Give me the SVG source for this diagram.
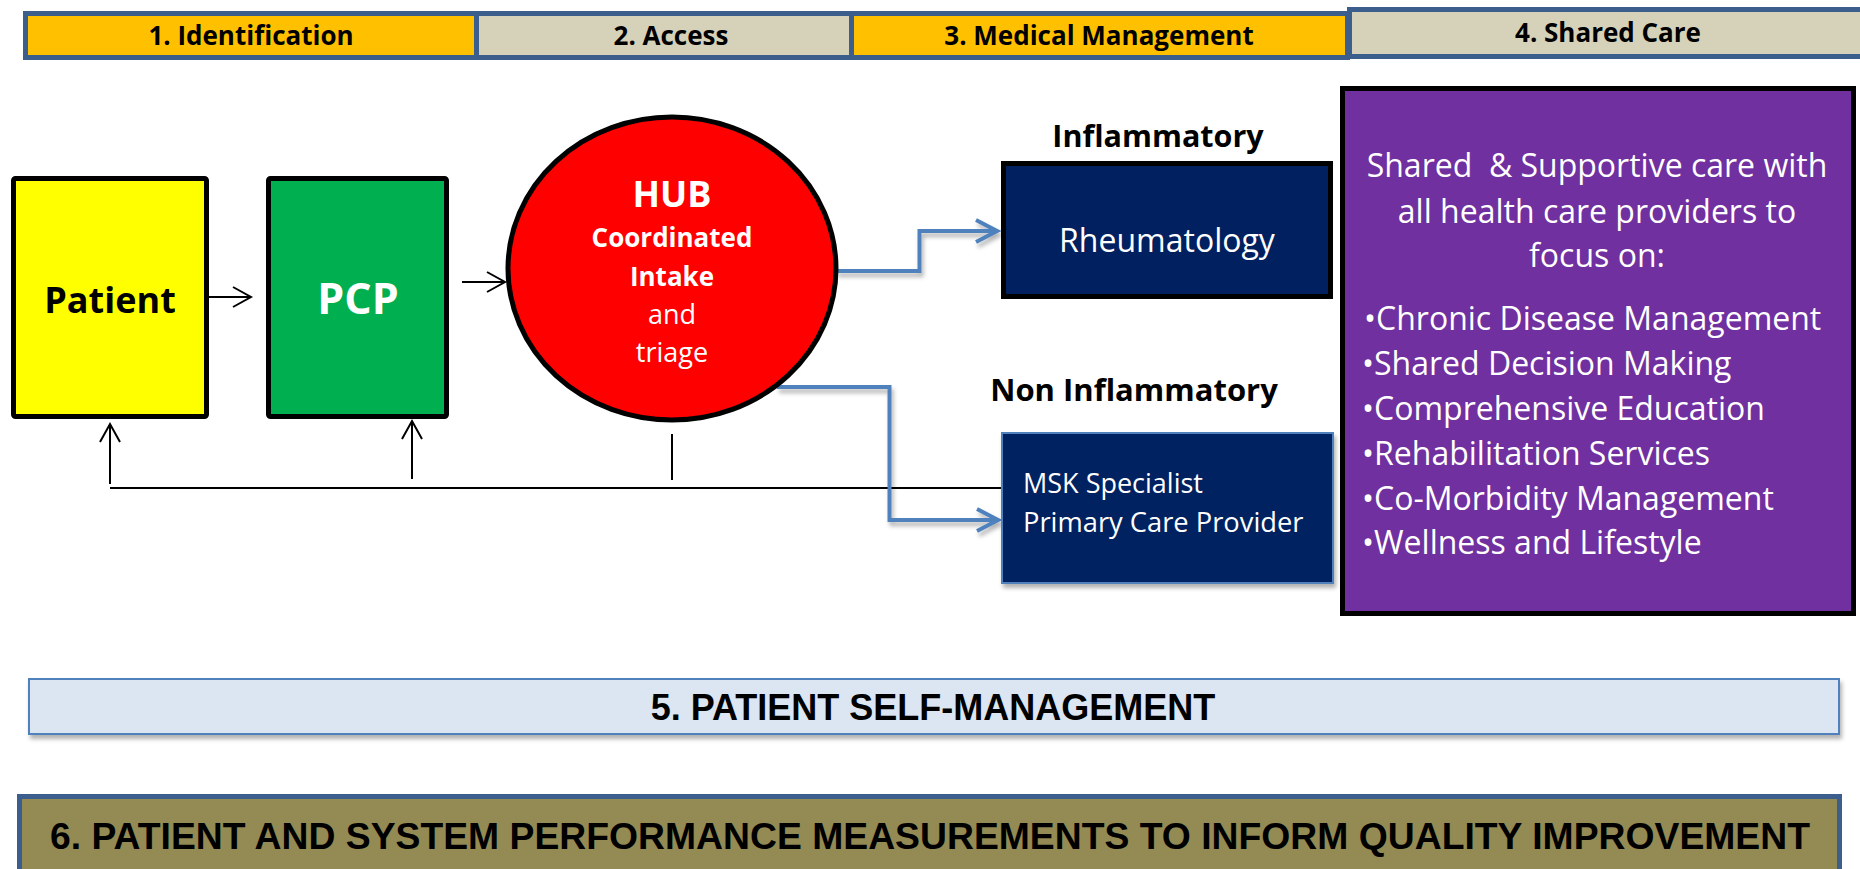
<svg xmlns="http://www.w3.org/2000/svg" width="1860" height="869" viewBox="0 0 1860 869">
  <style>
    .hdr { stroke: #3B5E8C; stroke-width: 5; }
    .hdrtxt { font-family: "Open Sans", "DejaVu Sans", sans-serif; font-weight: 700; font-size: 26px; fill: #000; text-anchor: middle; }
    .box { stroke: #000; stroke-width: 5; }
    .ctr { text-anchor: middle; }
    .os { font-family: "Open Sans", "DejaVu Sans", sans-serif; }
    .ar { font-family: "Liberation Sans", Arial, sans-serif; font-weight: 700; font-size: 36px; fill: #000; text-anchor: middle; }
    .blk { stroke: #000; stroke-width: 2; fill: none; }
    .blue { stroke: #4F81BD; stroke-width: 4; fill: none; }
    .wt { fill: #fff; }
    .pt { font-family: "Open Sans", "DejaVu Sans", sans-serif; font-size: 32px; fill: #fff; }
  </style>
  <defs>
    <marker id="blkArrow" markerUnits="userSpaceOnUse" markerWidth="24" markerHeight="24" viewBox="0 0 24 24" refX="21" refY="12" orient="auto">
      <path d="M3,2 L21,12 L3,22" fill="none" stroke="#000" stroke-width="2"/>
    </marker>
    <marker id="blueArrow" markerUnits="userSpaceOnUse" markerWidth="30" markerHeight="30" viewBox="0 0 30 30" refX="26" refY="15" orient="auto">
      <path d="M5,4 L26,15 L5,26" fill="none" stroke="#4F81BD" stroke-width="4"/>
    </marker>
    <filter id="shadow" x="-10%" y="-10%" width="130%" height="140%">
      <feDropShadow dx="2" dy="4" stdDeviation="2" flood-color="#000" flood-opacity="0.3"/>
    </filter>
  </defs>

  <g id="phase-1">
    <rect class="hdr" x="25.5" y="13.5" width="451" height="44" fill="#FFC000"/>
    <text class="hdrtxt" x="251" y="45">1. Identification</text>
  </g>
  <g id="phase-2">
    <rect class="hdr" x="476.5" y="13.5" width="375" height="44" fill="#D6D1B9"/>
    <text class="hdrtxt" x="671" y="45">2. Access</text>
  </g>
  <g id="phase-3">
    <rect class="hdr" x="851.5" y="13.5" width="496" height="44" fill="#FFC000"/>
    <text class="hdrtxt" x="1099" y="45">3. Medical Management</text>
  </g>
  <g id="phase-4">
    <rect class="hdr" x="1349.5" y="9.5" width="516" height="47" fill="#D6D1B9"/>
    <text class="hdrtxt" x="1608" y="42">4. Shared Care</text>
  </g>

  <g id="connectors">
    <line class="blk" x1="209" y1="297" x2="251" y2="297" marker-end="url(#blkArrow)"/>
    <line class="blk" x1="462" y1="282" x2="505" y2="282" marker-end="url(#blkArrow)"/>
    <line class="blk" x1="110" y1="488" x2="1002" y2="488"/>
    <line class="blk" x1="110" y1="484" x2="110" y2="424" marker-end="url(#blkArrow)"/>
    <line class="blk" x1="412" y1="479" x2="412" y2="421" marker-end="url(#blkArrow)"/>
    <line class="blk" x1="672" y1="434" x2="672" y2="480"/>
    <g filter="url(#shadow)">
      <polyline class="blue" points="836,271 919.5,271 919.5,231 997,231" marker-end="url(#blueArrow)"/>
      <polyline class="blue" points="777,387 889.5,387 889.5,520 998,520" marker-end="url(#blueArrow)"/>
    </g>
  </g>

  <g id="patient">
    <rect class="box" x="13.5" y="178.5" width="193" height="238" rx="2" fill="#FFFF00"/>
    <text class="os ctr" x="110" y="313" font-size="36" font-weight="700" fill="#000">Patient</text>
  </g>
  <g id="pcp">
    <rect class="box" x="268.5" y="178.5" width="178" height="238" rx="2" fill="#00B050"/>
    <text class="os ctr wt" x="358" y="314" font-size="43" font-weight="700">PCP</text>
  </g>
  <g id="hub">
    <ellipse class="box" cx="672" cy="268.5" rx="164" ry="151.5" fill="#FF0000"/>
    <text class="os ctr wt" x="672" y="207" font-size="36" font-weight="700">HUB</text>
    <text class="os ctr wt" x="672" y="247" font-size="26" font-weight="700">Coordinated</text>
    <text class="os ctr wt" x="672" y="286" font-size="26" font-weight="700">Intake</text>
    <text class="os ctr wt" x="672" y="324" font-size="27">and</text>
    <text class="os ctr wt" x="672" y="362" font-size="27">triage</text>
  </g>
  <g id="inflammatory-label">
    <text class="os ctr" x="1158" y="147" font-size="30.5" font-weight="700" fill="#000">Inflammatory</text>
  </g>
  <g id="rheumatology">
    <rect class="box" x="1003.5" y="163.5" width="327" height="133" fill="#002060"/>
    <text class="os ctr wt" x="1167" y="252" font-size="32">Rheumatology</text>
  </g>
  <g id="non-inflammatory-label">
    <text class="os ctr" x="1134" y="401" font-size="31" font-weight="700" fill="#000">Non Inflammatory</text>
  </g>
  <g id="msk">
    <rect x="1002" y="433" width="331" height="150" fill="#002060" stroke="#4F81BD" stroke-width="2" filter="url(#shadow)"/>
    <text class="os wt" x="1023" y="493" font-size="27">MSK Specialist</text>
    <text class="os wt" x="1023" y="532" font-size="27.3">Primary Care Provider</text>
  </g>
  <g id="shared-care">
    <rect class="box" x="1342.5" y="88.5" width="511" height="525" fill="#7030A0"/>
    <text class="pt ctr" x="1597" y="177" xml:space="preserve">Shared  &amp; Supportive care with</text>
    <text class="pt ctr" x="1597" y="223">all health care providers to</text>
    <text class="pt ctr" x="1597" y="267">focus on:</text>
    <text class="pt" x="1364" y="330">•Chronic Disease Management</text>
    <text class="pt" x="1362" y="375">•Shared Decision Making</text>
    <text class="pt" x="1362" y="420">•Comprehensive Education</text>
    <text class="pt" x="1362" y="465">•Rehabilitation Services</text>
    <text class="pt" x="1362" y="510">•Co-Morbidity Management</text>
    <text class="pt" x="1362" y="554">•Wellness and Lifestyle</text>
  </g>
  <g id="self-management">
    <rect x="29" y="679" width="1810" height="55" fill="#DCE6F2" stroke="#4F81BD" stroke-width="2" filter="url(#shadow)"/>
    <text class="ar" x="933" y="720">5. PATIENT SELF-MANAGEMENT</text>
  </g>
  <g id="performance">
    <rect x="19.5" y="796.5" width="1820" height="90" fill="#948A54" stroke="#3B5E8C" stroke-width="5"/>
    <text class="ar" x="930" y="849" font-size="37.5" textLength="1760" lengthAdjust="spacingAndGlyphs">6. PATIENT AND SYSTEM PERFORMANCE MEASUREMENTS TO INFORM QUALITY IMPROVEMENT</text>
  </g>
</svg>
